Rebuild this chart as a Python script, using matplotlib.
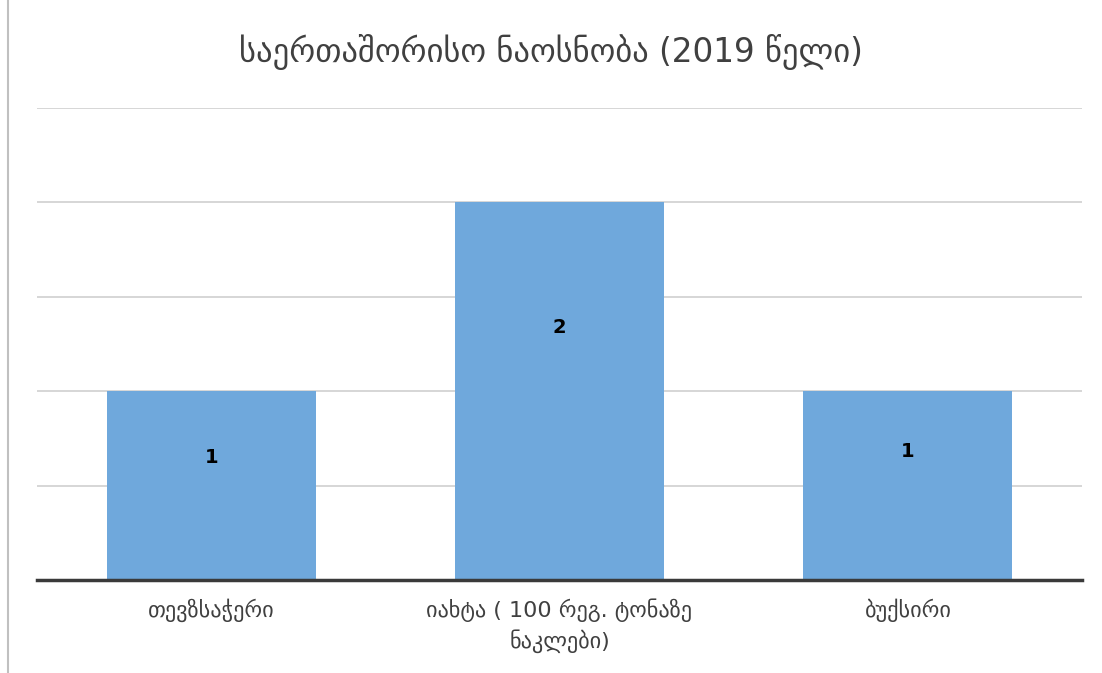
import matplotlib
matplotlib.use("Agg")
import matplotlib.pyplot as plt
import numpy as np
from matplotlib.lines import Line2D

plt.rcParams['font.family'] = ['DejaVu Sans']

TITLE = "საერთაშორისო ნაოსნობა (2019 წელი)"
categories = ["თევზსაჭერი", "იახტა ( 100 რეგ. ტონაზე\nნაკლები)", "ბუქსირი"]
values = [1, 2, 1]

BAR = "#6FA8DC"
TXT = "#404040"

fig = plt.figure(figsize=(11.02, 6.73), dpi=100)
ax = fig.add_axes([37/1102, 1 - 580/673, (1082-37)/1102, (580-108)/673])

x = np.arange(len(categories))
bars = ax.bar(x, values, width=0.6, color=BAR, zorder=2)
for b, v, f in zip(bars, values, [0.65, 0.67, 0.68]):
    ax.text(b.get_x() + b.get_width()/2, v*f, str(v), ha="center", va="center",
            fontsize=14, fontweight="bold", color="black", zorder=3)

ax.set_xlim(-0.5, len(categories) - 0.5)
ax.set_ylim(0, 2.5)
ax.set_yticks([0.5, 1, 1.5, 2, 2.5])
ax.yaxis.grid(True, color="#d0d0d0", linewidth=1.2, zorder=0)
ax.tick_params(axis="y", left=False, labelleft=False)
ax.tick_params(axis="x", bottom=False, pad=10)
ax.set_xticks(x)
ax.set_xticklabels(categories, fontsize=16, color=TXT, linespacing=1.35)
for s in ["top", "right", "left"]:
    ax.spines[s].set_visible(False)
ax.spines["bottom"].set_color("#3a3a3a")
ax.spines["bottom"].set_linewidth(2.5)
ax.spines["bottom"].set_zorder(4)

fig.text(0.5, 1 - 52/673, TITLE, ha="center", va="center", fontsize=23.5, color=TXT)
fig.add_artist(Line2D([7.5/1102, 7.5/1102], [0, 1], color="#c0c0c0", linewidth=1.5,
                      transform=fig.transFigure))

fig.savefig("out.png", dpi=100)
